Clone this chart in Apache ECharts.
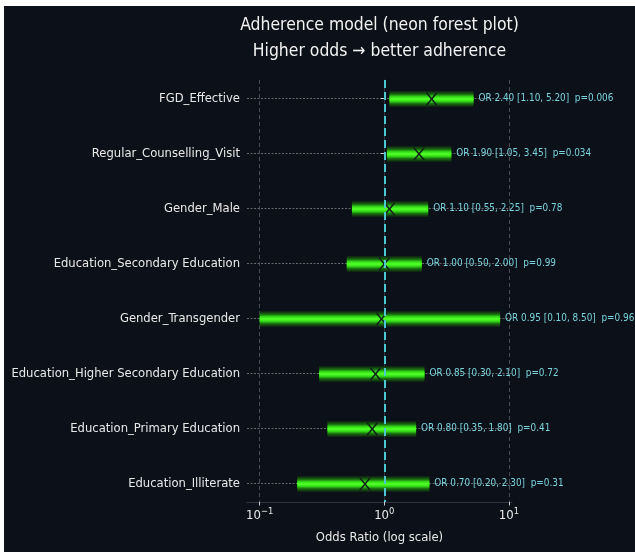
<!DOCTYPE html>
<html><head><meta charset="utf-8">
<script src="https://cdn.jsdelivr.net/npm/echarts@6/dist/echarts.min.js"></script>
<style>html,body{margin:0;padding:0;background:#fff;width:635px;height:553px;overflow:hidden;} #c{position:absolute;left:4px;top:6px;width:631px;height:546px;}</style>
</head><body><div id="c"></div>
<script>
const categories = ['FGD_Effective','Regular_Counselling_Visit','Gender_Male','Education_Secondary Education','Gender_Transgender','Education_Higher Secondary Education','Education_Primary Education','Education_Illiterate'];
const oddsRatios = [2.40, 1.90, 1.10, 1.00, 0.95, 0.85, 0.80, 0.70];
const ciLow = [1.10, 1.05, 0.55, 0.50, 0.10, 0.30, 0.35, 0.20];
const ciHigh = [5.20, 3.45, 2.25, 2.00, 8.50, 2.10, 1.80, 2.30];
const pValues = [0.006, 0.034, 0.78, 0.99, 0.96, 0.72, 0.41, 0.31];
const xTickValues = [0.1, 1, 10];
const titleLines = ['Adherence model (neon forest plot)', 'Higher odds \u2192 better adherence'];
const xAxisTitle = 'Odds Ratio (log scale)';
const referenceOR = 1;

function hasFont(name){
  const c = document.createElement('canvas').getContext('2d');
  const s = 'abcdefghijklmnopqrstuvwxyz ABCDEFG 0123';
  c.font = '40px monospace'; const a = c.measureText(s).width;
  c.font = "40px '" + name + "', monospace"; const b = c.measureText(s).width;
  return Math.abs(a - b) > 0.5;
}
const cond = hasFont('DejaVu Sans Condensed');
const FONT = cond ? "'DejaVu Sans Condensed', 'DejaVu Sans', sans-serif" : "'DejaVu Sans', sans-serif";
const S = cond ? {title:17.4, label:12.9, annot:9.9, tick:13, name:12.9} : {title:15.6, label:11.6, annot:8.9, tick:11.8, name:11.6};

const lg = v => Math.log10(v);
const data = categories.map((c, i) => [lg(ciLow[i]), lg(ciHigh[i]), lg(oddsRatios[i]), i]);
const annot = categories.map((c, i) => 'OR ' + oddsRatios[i].toFixed(2) + ' [' + ciLow[i].toFixed(2) + ', ' + ciHigh[i].toFixed(2) + ']  p=' + String(pValues[i]));
const yIdx = categories.map((c, i) => i);
const xTicks = xTickValues.map(lg);

const chart = echarts.init(document.getElementById('c'), null, {renderer: 'canvas'});
chart.setOption({
  backgroundColor: '#0c1018',
  animation: false,
  grid: {left: 243, right: 123, top: 74, bottom: 50, containLabel: false},
  graphic: [
    {type: 'text', x: 375.5, y: 19.5, style: {text: titleLines[0], fill: '#f2f2f2', fontSize: S.title, fontFamily: FONT, align: 'center', verticalAlign: 'middle'}},
    {type: 'text', x: 375.5, y: 45.5, style: {text: titleLines[1], fill: '#f2f2f2', fontSize: S.title, fontFamily: FONT, align: 'center', verticalAlign: 'middle'}}
  ],
  xAxis: {
    type: 'value', min: -1.102, max: 1.025,
    axisLine: {show: true, onZero: false, lineStyle: {color: '#30353e', width: 1}},
    axisTick: {show: true, customValues: xTicks, length: 3.5, lineStyle: {color: '#cfcfcf'}},
    axisLabel: {
      customValues: xTicks, margin: 5,
      formatter: v => { const e = Math.round(v); return '{b|10}{s|' + (e < 0 ? '\u2212' : '') + Math.abs(e) + '}'; },
      rich: {
        b: {fontSize: S.tick, color: '#e8e8e8', fontFamily: FONT},
        s: {fontSize: S.tick * 0.72, color: '#e8e8e8', fontFamily: FONT, padding: [0, 0, 9, 0]}
      }
    },
    splitLine: {show: true, lineStyle: {color: '#474c55', type: [4, 3], width: 1}},
    name: xAxisTitle, nameLocation: 'middle', nameGap: 29,
    nameTextStyle: {color: '#e8e8e8', fontSize: S.name, fontFamily: FONT}
  },
  yAxis: {
    type: 'value', inverse: true, min: -0.336, max: 7.336,
    axisLine: {show: true, lineStyle: {color: '#30353e', width: 1}},
    axisTick: {show: true, customValues: yIdx, length: 3.5, lineStyle: {color: '#cfcfcf'}},
    axisLabel: {customValues: yIdx, margin: 7, formatter: v => categories[Math.round(v)], color: '#e8e8e8', fontSize: S.label, fontFamily: FONT},
    splitLine: {show: true, lineStyle: {color: 'rgba(200,200,200,0.6)', type: [2, 1.5], width: 0.8}}
  },
  series: [
    {
      type: 'custom', z: 3, data: data, encode: {x: [0, 1, 2], y: 3},
      renderItem: function (params, api) {
        const lo = api.coord([api.value(0), api.value(3)]);
        const hi = api.coord([api.value(1), api.value(3)]);
        const md = api.coord([api.value(2), api.value(3)]);
        const y = lo[1] + 0.5;
        const layers = [[15, '#123f0e'], [11, '#1c7512'], [7, '#30d416'], [3, '#4cfa26']];
        const children = layers.map(l => ({type: 'line', shape: {x1: lo[0], y1: y, x2: hi[0], y2: y}, style: {stroke: l[1], lineWidth: l[0], lineCap: 'butt'}}));
        const h = 5.2;
        children.push({type: 'line', shape: {x1: md[0] - h, y1: y - h - 1, x2: md[0] + h, y2: y + h + 1}, style: {stroke: '#10201a', lineWidth: 1.5}});
        children.push({type: 'line', shape: {x1: md[0] - h, y1: y + h + 1, x2: md[0] + h, y2: y - h - 1}, style: {stroke: '#10201a', lineWidth: 1.5}});
        children.push({type: 'text', style: {x: hi[0] + 5, y: y - 1, text: annot[params.dataIndex], fill: '#79d5de', fontSize: S.annot, fontFamily: FONT, align: 'left', verticalAlign: 'middle'}});
        return {type: 'group', children: children};
      }
    },
    {
      type: 'line', data: [], z: 5,
      markLine: {
        silent: true, symbol: 'none', animation: false,
        label: {show: false},
        lineStyle: {color: '#4cc8d2', type: [8, 4], width: 2},
        data: [{xAxis: lg(referenceOR)}]
      }
    }
  ]
});
</script>
</body></html>
